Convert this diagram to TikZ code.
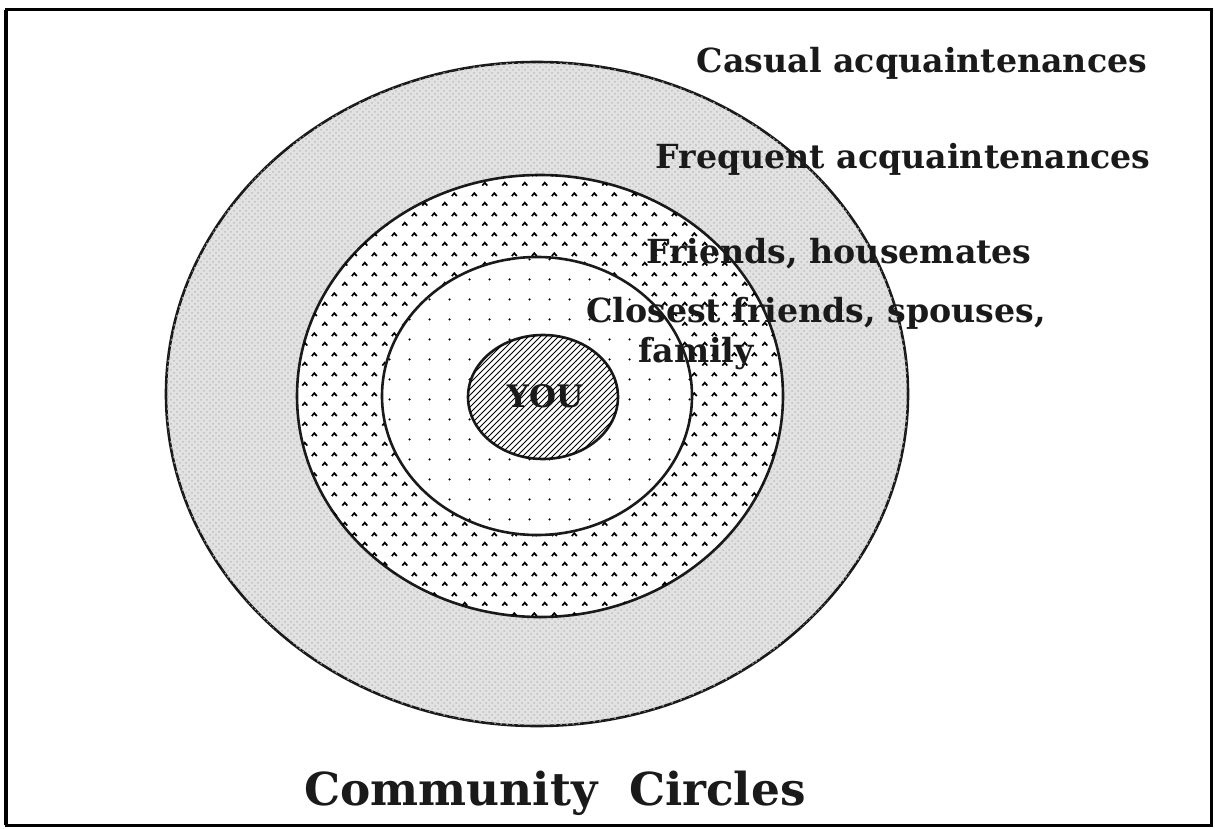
\documentclass[tikz,border=0pt]{standalone}
\usepackage{fontspec}
\setmainfont{DejaVu Serif}
\usepackage{xcolor}
\usetikzlibrary{patterns}
\definecolor{ccgray}{HTML}{E2E2E2}
\definecolor{ccink}{HTML}{1A1A1A}
% little carets for the friends ring
\pgfdeclarepatternformonly{ccarets}{\pgfpointorigin}{\pgfpoint{10pt}{10pt}}{\pgfpoint{10pt}{10pt}}{
  \pgfsetlinewidth{0.9pt}
  \pgfpathmoveto{\pgfpoint{1.2pt}{1.8pt}}\pgfpathlineto{\pgfpoint{2.5pt}{3.3pt}}\pgfpathlineto{\pgfpoint{3.8pt}{1.8pt}}
  \pgfpathmoveto{\pgfpoint{6.2pt}{6.8pt}}\pgfpathlineto{\pgfpoint{7.5pt}{8.3pt}}\pgfpathlineto{\pgfpoint{8.8pt}{6.8pt}}
  \pgfusepath{stroke}}
% sparse dots for the closest ring
\pgfdeclarepatternformonly{cdots}{\pgfpointorigin}{\pgfpoint{10pt}{10pt}}{\pgfpoint{10pt}{10pt}}{
  \pgfpathcircle{\pgfpoint{5pt}{5pt}}{0.65pt}
  \pgfusepath{fill}}

\begin{document}
\begin{tikzpicture}[x=0.5pt,y=0.5pt,
  ring/.style={draw=ccink,line width=1.3pt},
  lbl/.style={font=\bfseries\fontsize{16.6}{18}\selectfont,anchor=base,inner sep=0pt,text=ccink}]
  \useasboundingbox (0,0) rectangle (1215,-829);
  \draw[line width=1.5pt] (6,-10) rectangle (1211,-825);
  \draw[line width=1pt] (5,-10) -- (5,-825);
  % rings, outside in
  \draw[ring,fill=ccgray,postaction={pattern=crosshatch dots,pattern color=black!25}] (537,-394) ellipse [x radius=371,y radius=332];
  \draw[ring,fill=white,postaction={pattern=ccarets}] (540,-396) ellipse [x radius=243,y radius=221];
  \draw[ring,fill=white,postaction={pattern=cdots}] (537,-396) ellipse [x radius=155,y radius=139];
  \draw[ring,fill=white,postaction={pattern=north east lines}] (543,-397) ellipse [x radius=75,y radius=62];
  \node[lbl,font=\bfseries\fontsize{15.5}{17}\selectfont] (you) at (545,-407) {YOU};
  \node[lbl] (casual) at (922,-73) {Casual acquaintenances};
  \node[lbl] (frequent) at (903,-169) {Frequent acquaintenances};
  \node[lbl] (friends) at (839,-263) {Friends, housemates};
  \node[lbl] (closest) at (816,-322) {Closest friends, spouses,};
  \node[lbl,anchor=base west] (family) at (638,-362) {family};
  \node[lbl,font=\bfseries\fontsize{22.7}{26}\selectfont] (title) at (555,-805) {Community\ \ Circles};
\end{tikzpicture}
\end{document}
